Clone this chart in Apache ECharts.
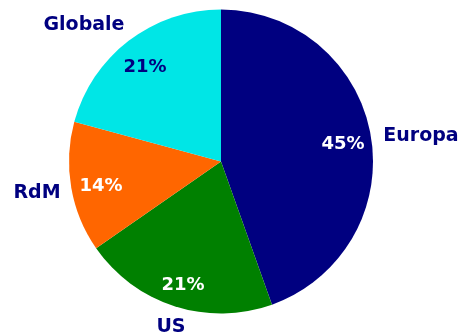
<!DOCTYPE html>
<html><head><meta charset="utf-8">
<script src="https://cdn.jsdelivr.net/npm/echarts@6/dist/echarts.min.js"></script>
<style>html,body{margin:0;padding:0;background:#fff}#c{width:461px;height:335px}</style>
</head><body><div id="c"></div>
<script>
var categories = ['Europa', 'US', 'RdM', 'Globale'];
var shares = [45, 21, 14, 21];
var sliceColors = ['#000080', '#008000', '#FF6600', '#00E6E6'];
var innerLabelColors = ['#FFFFFF', '#FFFFFF', '#FFFFFF', '#000080'];
var outerLabelAnchors = {Europa: [421, 136], US: [171, 327], RdM: [37, 193], Globale: [84, 25]};
var innerLabelAnchors = {Europa: [343, 144], US: [183, 285], RdM: [101, 186], Globale: [145, 67]};

var FONT = 'DejaVu Sans';
var chart = echarts.init(document.getElementById('c'), null, {renderer: 'canvas'});
var data = categories.map(function (c, i) {
  return {name: c, value: shares[i], itemStyle: {color: sliceColors[i]}};
});
var innerData = categories.map(function (c, i) {
  return {name: c, value: shares[i], label: {color: innerLabelColors[i]}};
});
chart.setOption({
  animation: false,
  series: [{
    type: 'pie',
    center: [221, 161.5],
    radius: [0, 152],
    startAngle: 90,
    clockwise: true,
    avoidLabelOverlap: false,
    data: data,
    itemStyle: {borderWidth: 0},
    label: {show: true, position: 'outside', formatter: '{b}', color: '#000080',
            fontFamily: FONT, fontWeight: 'bold', fontSize: 19},
    labelLine: {show: false},
    labelLayout: function (p) {
      var a = outerLabelAnchors[categories[p.dataIndex]];
      return {x: a[0], y: a[1], align: 'center', verticalAlign: 'middle'};
    },
    emphasis: {disabled: true}
  }, {
    type: 'pie',
    center: [221, 161.5],
    radius: [100, 152],
    startAngle: 90,
    clockwise: true,
    silent: true,
    data: innerData,
    itemStyle: {color: 'rgba(0,0,0,0)'},
    label: {show: true, position: 'inside', formatter: '{c}%',
            fontFamily: FONT, fontWeight: 'bold', fontSize: 18},
    labelLine: {show: false},
    labelLayout: function (p) {
      var a = innerLabelAnchors[categories[p.dataIndex]];
      return {x: a[0], y: a[1], align: 'center', verticalAlign: 'middle'};
    },
    emphasis: {disabled: true}
  }]
});
</script></body></html>
